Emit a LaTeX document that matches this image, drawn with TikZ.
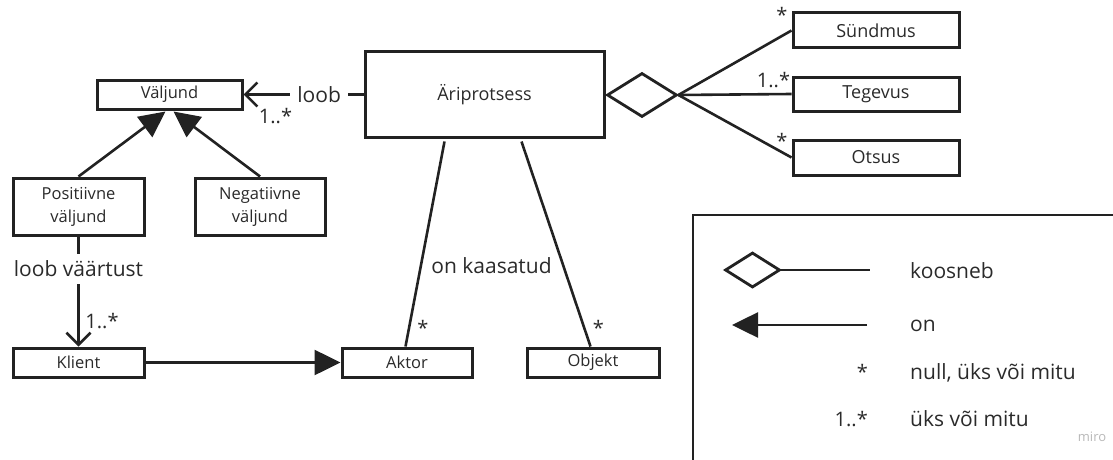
\documentclass[tikz,border=0pt]{standalone}
\usepackage{fontspec}
\setmainfont{Open Sans}
\usetikzlibrary{arrows.meta,shapes.geometric,calc}
\definecolor{ink}{HTML}{222222}
\definecolor{txt}{HTML}{2A2A2A}
\definecolor{wm}{HTML}{B8B8B8}
\begin{document}
\begin{tikzpicture}[x=1pt,y=-1pt,
  box/.style={draw=ink, line width=3pt, fill=white, inner sep=0pt, text=txt, align=center, font=\fontsize{16.5}{23}\selectfont},
  bigbox/.style={box, font=\fontsize{18}{22}\selectfont},
  dia/.style={draw=ink, line width=2.8pt, diamond, inner sep=0pt, fill=white},
  conn/.style={draw=ink, line width=2.6pt},
  lbl/.style={font=\fontsize{21}{24}\selectfont, text=txt, inner sep=0pt},
  mult/.style={font=\fontsize{20}{22}\selectfont, text=txt, inner sep=0pt},
  legtext/.style={font=\fontsize{21}{24}\selectfont, text=txt, inner sep=0pt, anchor=base west},
  legmult/.style={font=\fontsize{20}{22}\selectfont, text=txt, inner sep=0pt, anchor=base east},
  filltip/.style={-{Triangle[length=26pt,width=25pt]}},
  opentip/.style={-{Straight Barb[length=12pt,width=24pt]}},
]
\useasboundingbox (0,0) rectangle (1113,460);

% boxes
\node[box, minimum width=145pt, minimum height=29pt] (val) at (169.5,94.5) {Väljund};
\node[box, minimum width=131pt, minimum height=57pt] (pos) at (78.5,206.5) {Positiivne\\väljund};
\node[box, minimum width=130pt, minimum height=57pt] (neg) at (260,206.5) {Negatiivne\\väljund};
\node[box, minimum width=131pt, minimum height=29pt] (kli) at (78.5,362.5) {Klient};
\node[box, minimum width=130pt, minimum height=29pt] (akt) at (407,362.5) {Aktor};
\node[box, minimum width=132pt, minimum height=29pt] (obj) at (593,362.5) {Objekt};
\node[bigbox, minimum width=239pt, minimum height=85pt] (ari) at (484.5,94.5) {Äriprotsess};
\node[bigbox, minimum width=166pt, minimum height=35pt] (sun) at (876,30.5) {Sündmus};
\node[bigbox, minimum width=166pt, minimum height=34pt] (teg) at (876,94) {Tegevus};
\node[bigbox, minimum width=166pt, minimum height=35pt] (ots) at (876,157.5) {Otsus};
\node[dia, minimum width=70pt, minimum height=44pt] (agg) at (642,95) {};

% connectors
\draw[conn, opentip] (ari.west) -- node[lbl, fill=white, inner xsep=7pt, inner ysep=3pt, pos=0.37] (loob) {loob} (val.east);
\draw[conn, filltip] (pos.north) -- ($(val.south)+(-4,1)$);
\draw[conn, filltip] (neg.north) -- ($(val.south)+(4,1)$);
\draw[conn, opentip] (pos.south) -- node[lbl, fill=white, inner xsep=2pt, inner ysep=7pt, pos=0.296] (lv) {loob väärtust} (kli.north);
\draw[conn, filltip] (kli.east) -- (akt.west);
\draw[conn] ($(ari.south west)+(81,3)$) -- ($(akt.north west)+(65,0)$);
\draw[conn] ($(ari.south west)+(158,3)$) -- ($(obj.north west)+(65,0)$);
\draw[conn] (agg.east) -- (sun.west);
\draw[conn] (agg.east) -- (teg.west);
\draw[conn] (agg.east) -- (ots.west);

% labels
\node[lbl] (onk) at (491.5,266) {on kaasatud};
\node[mult] (m1) at (275.5,116) {1..*};
\node[mult] (m2) at (102,321) {1..*};
\node[mult] (m3) at (423,328) {*};
\node[mult] (m4) at (598.5,328) {*};
\node[mult] (m5) at (782,15) {*};
\node[mult] (m6) at (773.5,80.5) {1..*};
\node[mult] (m7) at (782,141) {*};

% legend
\draw[ink, line width=2.4pt] (1120,215) -- (693,215) -- (693,470);
\node[dia, minimum width=55pt, minimum height=35pt] (ldia) at (752.5,270) {};
\coordinate (lend) at (870,270);
\draw[conn] (ldia.east) -- (lend);
\coordinate (lfrom) at (867,325);
\coordinate (lto) at (732,325);
\draw[conn, filltip] (lfrom) -- (lto);
\node[legtext] (t1) at (910,278) {koosneb};
\node[legtext] (t2) at (910,331) {on};
\node[legtext] (t3) at (910,379) {null, üks või mitu};
\node[legtext] (t4) at (910,426) {üks või mitu};
\node[legmult] (s3) at (868,379) {*};
\node[legmult] (s4) at (868,426) {1..*};
\node[font=\fontsize{13}{15}\selectfont, text=wm, inner sep=0pt] (miro) at (1092,437) {miro};
\end{tikzpicture}
\end{document}
